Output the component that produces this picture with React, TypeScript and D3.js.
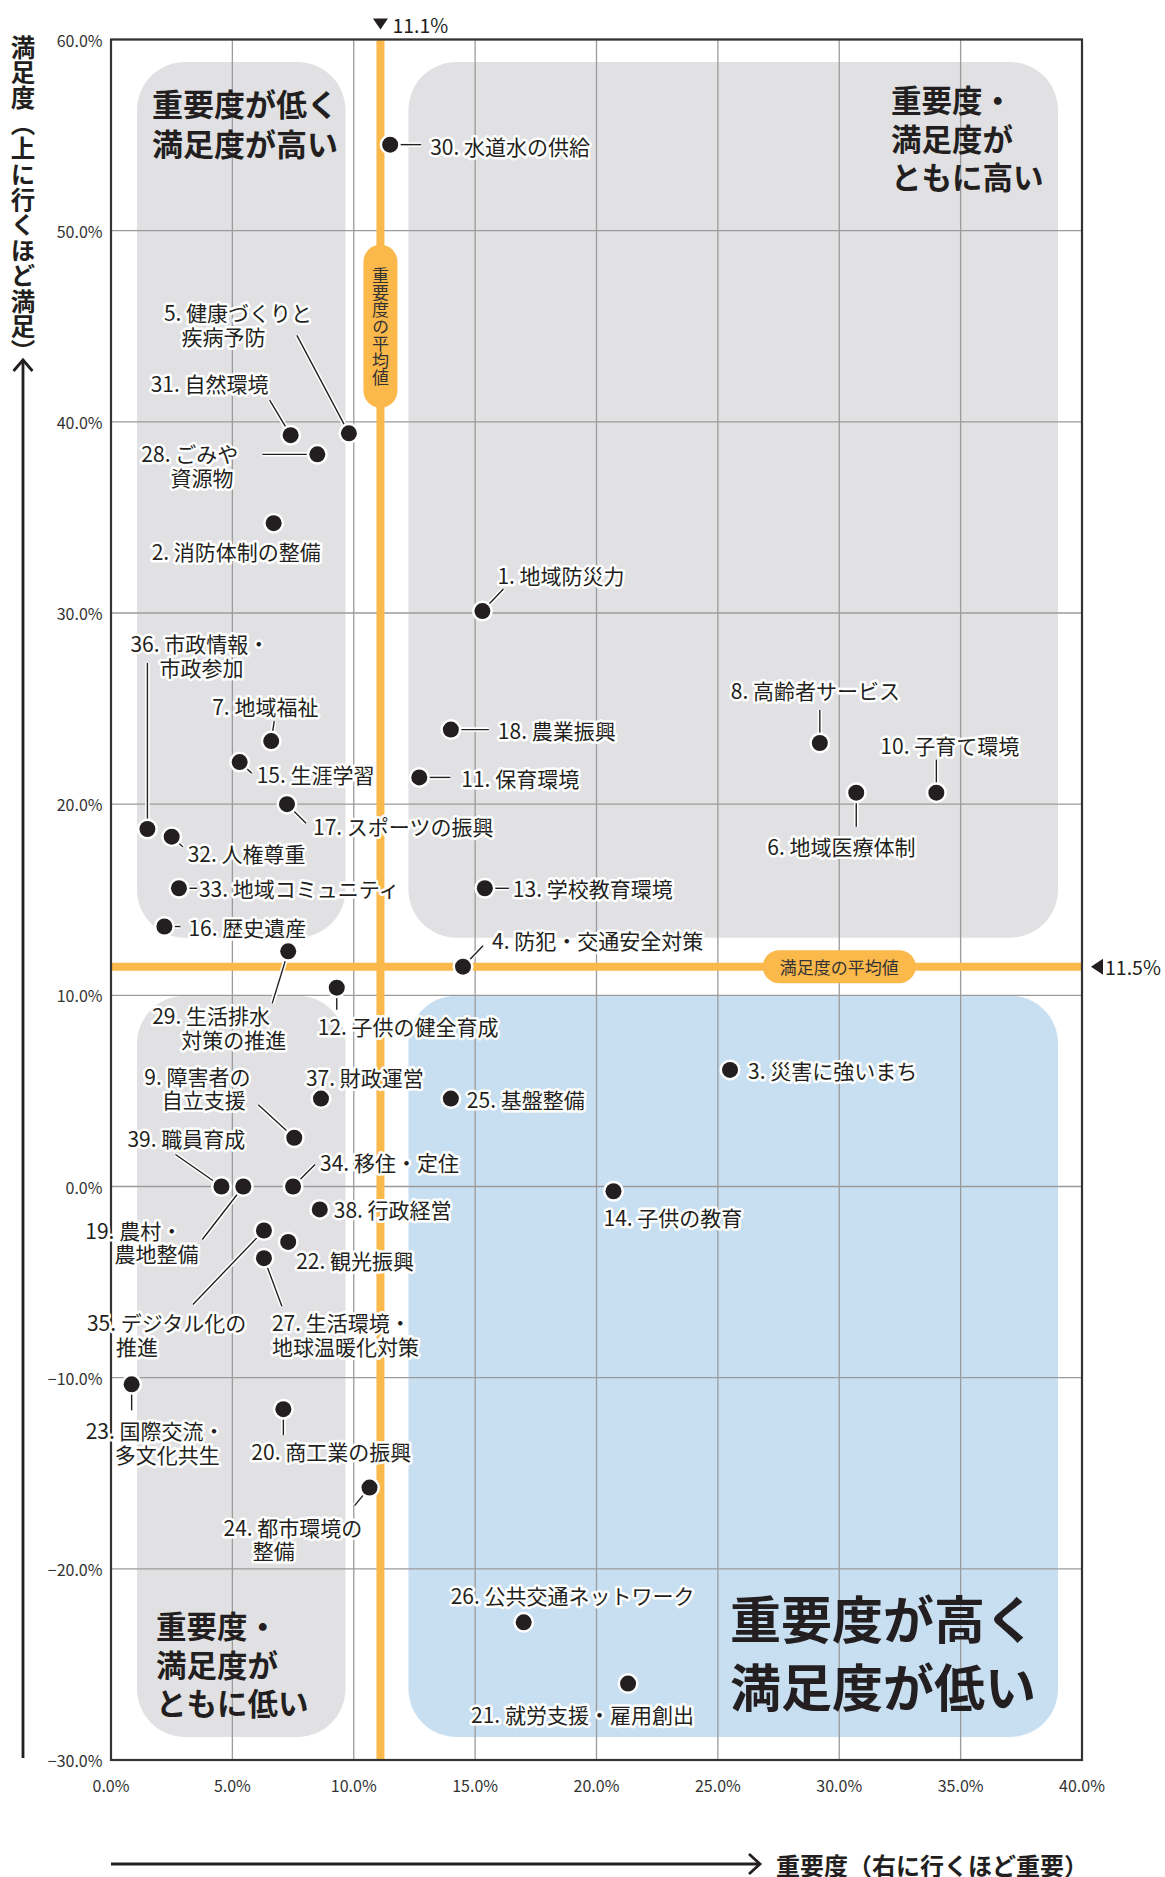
import { useEffect, useRef } from "react";
import * as d3 from "d3";

// 施策ごとの重要度（x）と満足度（y）
const ITEM_NO = d3.range(1, 40);
const ITEM_NAMES = [
  "地域防災力", // 1
  "消防体制の整備", // 2
  "災害に強いまち", // 3
  "防犯・交通安全対策", // 4
  "健康づくりと\n疾病予防", // 5
  "地域医療体制", // 6
  "地域福祉", // 7
  "高齢者サービス", // 8
  "障害者の\n自立支援", // 9
  "子育て環境", // 10
  "保育環境", // 11
  "子供の健全育成", // 12
  "学校教育環境", // 13
  "子供の教育", // 14
  "生涯学習", // 15
  "歴史遺産", // 16
  "スポーツの振興", // 17
  "農業振興", // 18
  "農村・\n農地整備", // 19
  "商工業の振興", // 20
  "就労支援・雇用創出", // 21
  "観光振興", // 22
  "国際交流・\n多文化共生", // 23
  "都市環境の\n整備", // 24
  "基盤整備", // 25
  "公共交通ネットワーク", // 26
  "生活環境・\n地球温暖化対策", // 27
  "ごみや\n資源物", // 28
  "生活排水\n対策の推進", // 29
  "水道水の供給", // 30
  "自然環境", // 31
  "人権尊重", // 32
  "地域コミュニティ", // 33
  "移住・定住", // 34
  "デジタル化の\n推進", // 35
  "市政情報・\n市政参加", // 36
  "財政運営", // 37
  "行政経営", // 38
  "職員育成", // 39
];
const IMPORTANCE = [
  15.3, 6.7, 25.5, 14.5, 9.8, 30.7, 6.6, 29.2, 7.55, 34.0,
  12.7, 9.3, 15.4, 20.7, 5.3, 2.2, 7.25, 14.0, 5.45, 7.1,
  21.3, 7.3, 0.85, 10.65, 14.0, 17.0, 6.3, 8.5, 7.3, 11.5,
  7.4, 2.5, 2.8, 7.5, 6.3, 1.5, 8.65, 8.6, 4.55,
];
const SATISFACTION = [
  30.1, 34.7, 6.1, 11.5, 39.4, 20.6, 23.3, 23.2, 2.55, 20.6,
  21.4, 10.4, 15.6, -0.25, 22.2, 13.6, 20.0, 23.9, 0.0, -11.65,
  -26.0, -2.9, -10.35, -15.75, 4.6, -22.8, -3.75, 38.3, 12.3, 54.5,
  39.3, 18.3, 15.6, 0.0, -2.3, 18.7, 4.6, -1.2, 0.0,
];
const AVG_IMPORTANCE = 11.1;
const AVG_SATISFACTION = 11.5;

const X_TICKS = [0, 5, 10, 15, 20, 25, 30, 35, 40];
const Y_TICKS = [-30, -20, -10, 0, 10, 20, 30, 40, 50, 60];

const X_TITLE = "重要度（右に行くほど重要）";
const Y_TITLE = "満足度（上に行くほど満足）";
const X_AVG_LABEL = "重要度の平均値";
const Y_AVG_LABEL = "満足度の平均値";

const QUADRANT_TITLES = [
  { lines: ["重要度が低く", "満足度が高い"], x: 152, y: 102, size: 31, lh: 39.5 },
  { lines: ["重要度・", "満足度が", "ともに高い"], x: 891, y: 99, size: 30.5, lh: 38.5 },
  { lines: ["重要度・", "満足度が", "ともに低い"], x: 156, y: 1625, size: 30.5, lh: 38.5 },
  { lines: ["重要度が高く", "満足度が低い"], x: 730, y: 1617, size: 51, lh: 68 },
];

// ラベル配置（点からのオフセット, px）
type LabelPos = { dx: number; dy: number; lead?: [number, number]; hang?: boolean };
const LABEL_POS: LabelPos[] = [
  { dx: 15, dy: -36, lead: [21, -22] }, // 1
  { dx: -122, dy: 28 }, // 2
  { dx: 18, dy: 0 }, // 3
  { dx: 29, dy: -27, lead: [20, -21] }, // 4
  { dx: -185, dy: -121, lead: [-52, -98] }, // 5
  { dx: -89, dy: 53, lead: [0, 34] }, // 6
  { dx: -59, dy: -35, lead: [3, -20] }, // 7
  { dx: -89, dy: -53, lead: [0, -33] }, // 8
  { dx: -150, dy: -62, lead: [-36, -33] }, // 9
  { dx: -56, dy: -48, lead: [0, -33] }, // 10
  { dx: 42, dy: 1, lead: [31, 0] }, // 11
  { dx: -19, dy: 38, lead: [0, 22] }, // 12
  { dx: 28, dy: 0, lead: [24, 0] }, // 13
  { dx: -10, dy: 26 }, // 14
  { dx: 17, dy: 12, lead: [12, 11] }, // 15
  { dx: 24, dy: 0, lead: [16, 0] }, // 16
  { dx: 26, dy: 22, lead: [19, 19] }, // 17
  { dx: 47, dy: 0, lead: [38, 0] }, // 18
  { dx: -158, dy: 43, lead: [-41, 53] }, // 19
  { dx: -32, dy: 42, lead: [0, 26] }, // 20
  { dx: -157, dy: 30 }, // 21
  { dx: 8, dy: 18 }, // 22
  { dx: -46, dy: 46, lead: [0, 26] }, // 23
  { dx: -146, dy: 39, lead: [-15, 18] }, // 24
  { dx: 16, dy: 0 }, // 25
  { dx: -73, dy: -27 }, // 26
  { dx: 8, dy: 64, lead: [18, 48], hang: false }, // 27
  { dx: -176, dy: -1, lead: [-55, 0] }, // 28
  { dx: -136, dy: 64, lead: [-16, 52] }, // 29
  { dx: 40, dy: 1, lead: [31, 0] }, // 30
  { dx: -140, dy: -52, lead: [-21, -35] }, // 31
  { dx: 16, dy: 16, lead: [11, 10] }, // 32
  { dx: 20, dy: 0, lead: [18, 0] }, // 33
  { dx: 27, dy: -25, lead: [22, -22] }, // 34
  { dx: -177, dy: 92, lead: [-71, 74] }, // 35
  { dx: -17, dy: -186, lead: [0, -166] }, // 36
  { dx: -15, dy: -22 }, // 37
  { dx: 14, dy: 0 }, // 38
  { dx: -94, dy: -49, lead: [-46, -32] }, // 39
];

const FONT = '"Noto Sans CJK JP", "Noto Sans", sans-serif';
const INK = "#231f20";
const GRAY = "#e1e1e3";
const BLUE = "#c8dff2";
const ORANGE = "#fbb84b";
const GRID = "#9b9b9b";

export default function App() {
  const ref = useRef<SVGSVGElement | null>(null);

  useEffect(() => {
    if (!ref.current) return;
    document.body.style.margin = "0";
    const svg = d3.select(ref.current);
    svg.selectAll("*").remove();

    const x = d3.scaleLinear().domain([0, 40]).range([111, 1082]);
    const y = d3.scaleLinear().domain([-30, 60]).range([1760, 39.5]);
    const [x0, x1] = x.range();
    const [yB, yT] = y.range();
    const xAvg = x(AVG_IMPORTANCE);
    const yAvg = y(AVG_SATISFACTION);
    const pct = d3.format(".1f");

    // quadrant panels
    const cols = [
      [x0 + 26, xAvg - 35],
      [xAvg + 28, x1 - 24],
    ];
    const rows = [
      [yT + 22.5, yAvg - 29],
      [yAvg + 29, yB - 23],
    ];
    const panels = [
      { c: 0, r: 0, fill: GRAY },
      { c: 1, r: 0, fill: GRAY },
      { c: 0, r: 1, fill: GRAY },
      { c: 1, r: 1, fill: BLUE },
    ];
    svg
      .append("g")
      .selectAll("rect")
      .data(panels)
      .join("rect")
      .attr("x", (d) => cols[d.c][0])
      .attr("y", (d) => rows[d.r][0])
      .attr("width", (d) => cols[d.c][1] - cols[d.c][0])
      .attr("height", (d) => rows[d.r][1] - rows[d.r][0])
      .attr("rx", 48)
      .attr("fill", (d) => d.fill);

    // grid
    const grid = svg.append("g").attr("stroke", GRID).attr("stroke-width", 1.3);
    grid
      .selectAll("line.v")
      .data(X_TICKS)
      .join("line")
      .attr("x1", (d) => x(d))
      .attr("x2", (d) => x(d))
      .attr("y1", yT)
      .attr("y2", yB);
    grid
      .selectAll("line.h")
      .data(Y_TICKS)
      .join("line")
      .attr("y1", (d) => y(d))
      .attr("y2", (d) => y(d))
      .attr("x1", x0)
      .attr("x2", x1);

    // average lines
    svg
      .append("line")
      .attr("x1", xAvg)
      .attr("x2", xAvg)
      .attr("y1", yT)
      .attr("y2", yB)
      .attr("stroke", ORANGE)
      .attr("stroke-width", 8);
    svg
      .append("line")
      .attr("x1", x0)
      .attr("x2", x1)
      .attr("y1", yAvg)
      .attr("y2", yAvg)
      .attr("stroke", ORANGE)
      .attr("stroke-width", 8);

    // average pills
    const vCy = y(45);
    svg
      .append("rect")
      .attr("x", xAvg - 17)
      .attr("y", vCy - 81.5)
      .attr("width", 34)
      .attr("height", 163)
      .attr("rx", 17)
      .attr("fill", ORANGE);
    svg
      .append("text")
      .attr("x", xAvg)
      .attr("y", vCy)
      .attr("text-anchor", "middle")
      .style("writing-mode", "vertical-rl")
      .attr("font-family", FONT)
      .attr("font-size", 17)
      .attr("fill", "#333")
      .text(X_AVG_LABEL);

    const hCx = x(30);
    svg
      .append("rect")
      .attr("x", hCx - 76.5)
      .attr("y", yAvg - 16.5)
      .attr("width", 153)
      .attr("height", 33)
      .attr("rx", 16.5)
      .attr("fill", ORANGE);
    svg
      .append("text")
      .attr("x", hCx)
      .attr("y", yAvg)
      .attr("text-anchor", "middle")
      .attr("dominant-baseline", "central")
      .attr("font-family", FONT)
      .attr("font-size", 17)
      .attr("fill", "#333")
      .text(Y_AVG_LABEL);

    // frame
    svg
      .append("rect")
      .attr("x", x0)
      .attr("y", yT)
      .attr("width", x1 - x0)
      .attr("height", yB - yT)
      .attr("fill", "none")
      .attr("stroke", "#333")
      .attr("stroke-width", 2.2);

    // average markers outside the frame
    svg
      .append("path")
      .attr("d", `M${xAvg - 7.5},18.5 L${xAvg + 7.5},18.5 L${xAvg},29.5 Z`)
      .attr("fill", INK);
    svg
      .append("text")
      .attr("x", xAvg + 12)
      .attr("y", 24)
      .attr("dominant-baseline", "central")
      .attr("font-family", FONT)
      .attr("font-size", 19.5)
      .attr("fill", INK)
      .text(`${pct(AVG_IMPORTANCE)}%`);
    svg
      .append("path")
      .attr("d", `M${x1 + 9},${yAvg} L${x1 + 21},${yAvg - 8} L${x1 + 21},${yAvg + 8} Z`)
      .attr("fill", INK);
    svg
      .append("text")
      .attr("x", x1 + 23)
      .attr("y", yAvg)
      .attr("dominant-baseline", "central")
      .attr("font-family", FONT)
      .attr("font-size", 19.5)
      .attr("fill", INK)
      .text(`${pct(AVG_SATISFACTION)}%`);

    // tick labels
    svg
      .append("g")
      .selectAll("text")
      .data(Y_TICKS)
      .join("text")
      .attr("x", x0 - 8.5)
      .attr("y", (d) => y(d))
      .attr("text-anchor", "end")
      .attr("dominant-baseline", "central")
      .attr("font-family", FONT)
      .attr("font-size", 16)
      .attr("fill", "#333")
      .text((d) => `${pct(d)}%`);
    svg
      .append("g")
      .selectAll("text")
      .data(X_TICKS)
      .join("text")
      .attr("x", (d) => x(d))
      .attr("y", yB + 25)
      .attr("text-anchor", "middle")
      .attr("dominant-baseline", "central")
      .attr("font-family", FONT)
      .attr("font-size", 16)
      .attr("fill", "#333")
      .text((d) => `${pct(d)}%`);

    // quadrant titles
    QUADRANT_TITLES.forEach((q) => {
      svg
        .append("text")
        .attr("dominant-baseline", "central")
        .attr("font-family", FONT)
        .attr("font-weight", 700)
        .attr("font-size", q.size)
        .attr("fill", INK)
        .selectAll("tspan")
        .data(q.lines)
        .join("tspan")
        .attr("x", q.x)
        .attr("y", (_, i) => q.y + i * q.lh)
        .text((d) => d);
    });

    // axis titles
    svg
      .append("text")
      .attr("x", 23)
      .attr("y", 35)
      .style("writing-mode", "vertical-rl")
      .style("letter-spacing", "0.9px")
      .attr("font-family", FONT)
      .attr("font-weight", 700)
      .attr("font-size", 24.5)
      .attr("fill", INK)
      .text(Y_TITLE);
    const arrowG = svg
      .append("g")
      .attr("stroke", INK)
      .attr("fill", "none")
      .attr("stroke-width", 2.8);
    arrowG.append("line").attr("x1", 23).attr("x2", 23).attr("y1", 360).attr("y2", yB - 2);
    arrowG.append("path").attr("d", "M13.5,371 L23,360 L32.5,371");
    arrowG.append("line").attr("x1", x0).attr("x2", 760).attr("y1", 1864).attr("y2", 1864);
    arrowG.append("path").attr("d", "M749,1854 L760,1864 L749,1874");
    svg
      .append("text")
      .attr("x", 776)
      .attr("y", 1864)
      .attr("dominant-baseline", "central")
      .attr("font-family", FONT)
      .attr("font-weight", 700)
      .attr("font-size", 24)
      .attr("fill", INK)
      .text(X_TITLE);

    // points
    const items = ITEM_NO.map((no, i) => ({
      no,
      name: ITEM_NAMES[i],
      px: x(IMPORTANCE[i]),
      py: y(SATISFACTION[i]),
      pos: LABEL_POS[i],
    }));

    const leaders = items.filter((d) => d.pos.lead);
    const leadG = svg.append("g");
    leadG
      .selectAll("line.halo")
      .data(leaders)
      .join("line")
      .attr("x1", (d) => d.px)
      .attr("y1", (d) => d.py)
      .attr("x2", (d) => d.px + d.pos.lead![0])
      .attr("y2", (d) => d.py + d.pos.lead![1])
      .attr("stroke", "#fff")
      .attr("stroke-width", 4.5);
    leadG
      .selectAll("line.ink")
      .data(leaders)
      .join("line")
      .attr("x1", (d) => d.px)
      .attr("y1", (d) => d.py)
      .attr("x2", (d) => d.px + d.pos.lead![0])
      .attr("y2", (d) => d.py + d.pos.lead![1])
      .attr("stroke", INK)
      .attr("stroke-width", 1.4);

    const dotG = svg.append("g");
    dotG
      .selectAll("circle.halo")
      .data(items)
      .join("circle")
      .attr("cx", (d) => d.px)
      .attr("cy", (d) => d.py)
      .attr("r", 10.5)
      .attr("fill", "#fff");
    dotG
      .selectAll("circle.ink")
      .data(items)
      .join("circle")
      .attr("cx", (d) => d.px)
      .attr("cy", (d) => d.py)
      .attr("r", 8)
      .attr("fill", INK);

    // labels with white halo
    const labelG = svg
      .append("g")
      .attr("font-family", FONT)
      .attr("font-size", 21)
      .attr("fill", INK)
      .attr("stroke", "#fff")
      .attr("stroke-width", 5)
      .attr("stroke-linejoin", "round")
      .attr("paint-order", "stroke");

    const probe = labelG.append("text").attr("stroke", "none");
    items.forEach((d) => {
      const prefix = `${d.no}. `;
      probe.text(prefix);
      const indent = d.pos.hang === false ? 0 : (probe.node() as SVGTextElement).getComputedTextLength();
      const lines = d.name.split("\n");
      const lx = d.px + d.pos.dx;
      const ly = d.py + d.pos.dy;
      labelG
        .append("text")
        .attr("dominant-baseline", "central")
        .selectAll("tspan")
        .data(lines)
        .join("tspan")
        .attr("x", (_, i) => (i === 0 ? lx : lx + indent))
        .attr("y", (_, i) => ly + i * 23.5)
        .text((t, i) => (i === 0 ? prefix + t : t));
    });
    probe.remove();
  }, []);

  return (
    <svg
      ref={ref}
      width={1165}
      height={1877}
      style={{ position: "absolute", left: 0, top: 0, display: "block", background: "#fff" }}
    />
  );
}
